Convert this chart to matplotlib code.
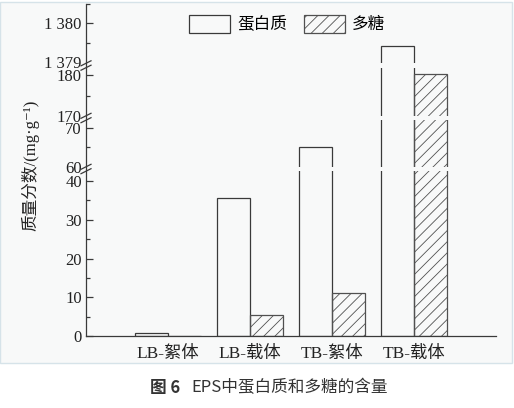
import matplotlib
matplotlib.use("Agg")
import matplotlib.pyplot as plt
import numpy as np
from matplotlib.patches import Rectangle, Patch
from matplotlib.lines import Line2D

plt.rcParams['font.family'] = ['Liberation Serif', 'Noto Sans CJK SC', 'DejaVu Serif']
plt.rcParams['hatch.linewidth'] = 0.6

# ---- data ----
categories = ["LB-絮体", "LB-载体", "TB-絮体", "TB-载体"]
protein = [0.7, 35.7, 65.1, 1379.4]
polysaccharide = [0.0, 5.4, 11.0, 180.3]
series_names = ["蛋白质", "多糖"]

W, H = 514, 408
fig = plt.figure(figsize=(W / 100, H / 100), dpi=100)
fig.patch.set_facecolor('white')

# panel background
fig.add_artist(Rectangle((0, 1 - 363 / H), 512 / W, (363 - 2) / H,
                         transform=fig.transFigure, facecolor='#f8f9f9',
                         edgecolor='#d6e3e9', linewidth=1.0, zorder=-10))

left_px, right_px = 86, 496

def rect(top, bottom):
    return [left_px / W, 1 - bottom / H, (right_px - left_px) / W, (bottom - top) / H]

# segments: (top px, bottom px, ylim, major ticks, minor ticks, labels, hidden-tick values)
segments = [
    (4, 63, (1378.97, 1380.5), [1379, 1380], [1379.5, 1380.5], ["1 379", "1 380"], [1379]),
    (68, 116, (170, 181.8), [170, 180], [175], ["170", "180"], [170]),
    (120, 167, (60, 71.9), [60, 70], [65], ["60", "70"], [60]),
    (171, 336, (0, 42.6), [0, 10, 20, 30, 40], [5, 15, 25, 35], ["0", "10", "20", "30", "40"], []),
]

x = np.arange(len(categories))
bw = 0.4
ec = '#3a3a3a'
axes = []
for (top, bottom, ylim, majors, minors, labels, hidden) in segments:
    ax = fig.add_axes(rect(top, bottom))
    ax.patch.set_alpha(0)
    ax.bar(x - bw / 2, protein, bw, facecolor='none', edgecolor=ec, linewidth=0.9)
    ax.bar(x + bw / 2, polysaccharide, bw, facecolor='none', edgecolor='#505050',
           linewidth=0.9, hatch='///')
    ax.set_xlim(-1, 4)
    ax.set_ylim(*ylim)
    for s in ['top', 'right', 'left', 'bottom']:
        ax.spines[s].set_visible(False)
    ax.set_yticks(majors)
    ax.set_yticklabels(labels, fontsize=12)
    ax.set_yticks(minors, minor=True)
    ax.tick_params(axis='y', which='major', direction='in', length=5, width=0.9,
                   color=ec, pad=3, labelcolor='#222222')
    ax.tick_params(axis='y', which='minor', direction='in', length=3, width=0.9, color=ec)
    for t, v in zip(ax.yaxis.get_major_ticks(), majors):
        if v in hidden:
            t.tick1line.set_visible(False)
    ax.set_xticks([])
    axes.append(ax)

axd = axes[-1]
axd.spines['bottom'].set_visible(True)
axd.spines['bottom'].set_color(ec)
axd.spines['bottom'].set_linewidth(0.9)
axd.set_xticks(x)
axd.set_xticklabels(categories, fontsize=12.5, color='#222222')
axd.tick_params(axis='x', length=0, pad=7)

# continuous left spine
fig.add_artist(Line2D([left_px / W, left_px / W], [1 - 4 / H, 1 - 336 / H],
                      transform=fig.transFigure, color=ec, linewidth=0.9))
# break marks
for yb in [65.5, 118, 169]:
    for dy in (-2.2, 2.2):
        yc = yb + dy
        fig.add_artist(Line2D([(left_px - 5) / W, (left_px + 5) / W],
                              [1 - (yc + 2.5) / H, 1 - (yc - 2.5) / H],
                              transform=fig.transFigure, color=ec, linewidth=0.9))

# y label
fig.text(30 / W, 1 - 165 / H, '质量分数/(mg·g⁻¹)', rotation=90,
         ha='center', va='center', fontsize=12, color='#222222')

# legend
handles = [Patch(facecolor='none', edgecolor=ec, linewidth=0.9),
           Patch(facecolor='none', edgecolor='#505050', linewidth=0.9, hatch='///')]
fig.legend(handles, series_names, loc='center', bbox_to_anchor=(287 / W, 1 - 24 / H),
           ncol=2, frameon=False, fontsize=12, handlelength=2.5, handleheight=1.3,
           columnspacing=1.0, handletextpad=0.4)

# caption
fig.text(180 / W, 1 - 388 / H, '图 6', ha='right', va='center', fontsize=12,
         fontweight='bold', family=['Noto Sans CJK SC'], color='#333333')
fig.text(191 / W, 1 - 388 / H, 'EPS中蛋白质和多糖的含量', ha='left', va='center',
         fontsize=12, family=['Noto Sans CJK SC'], color='#333333')

fig.savefig('out.png', dpi=100)
